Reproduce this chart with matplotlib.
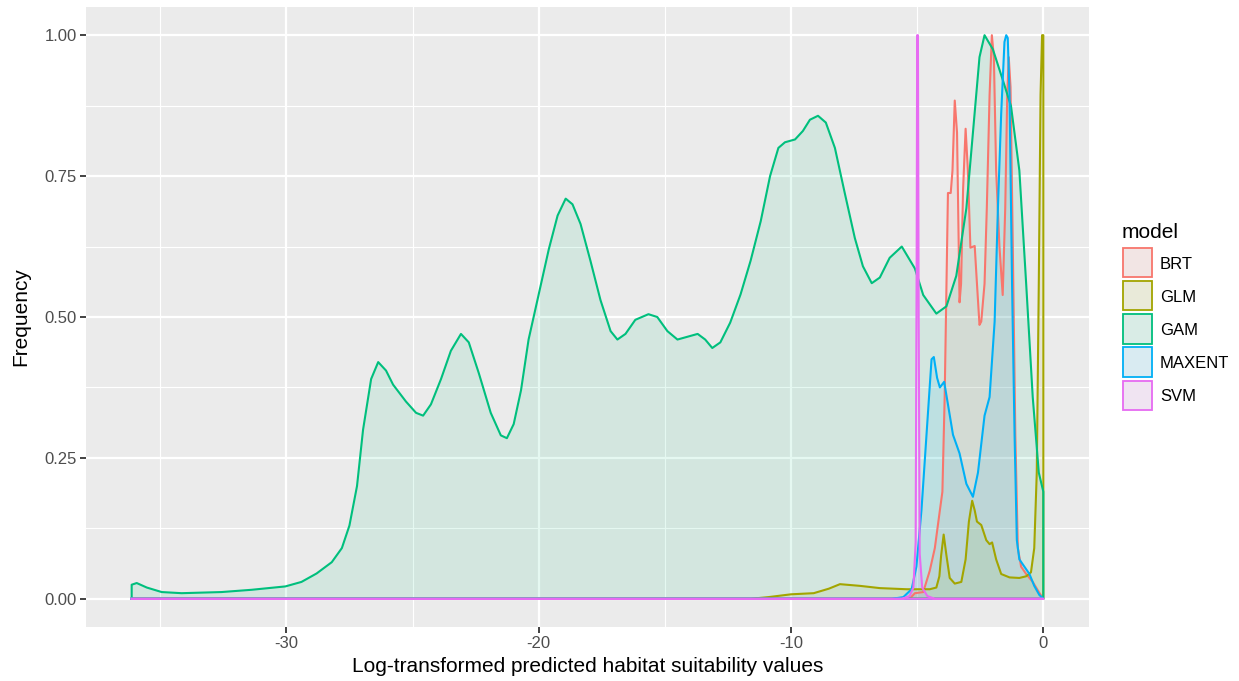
import matplotlib
matplotlib.use("Agg")
import matplotlib.pyplot as plt
from matplotlib.patches import Rectangle

plt.rcParams['font.family'] = ['Liberation Sans', 'DejaVu Sans']

models = ["BRT", "GLM", "GAM", "MAXENT", "SVM"]
colors = ["#F8766D", "#A3A500", "#00BF7D", "#00B0F6", "#E76BF3"]

x_min, x_max = -36.13, 0.0

brt_x = [-5.3, -5.09, -4.76, -4.5, -4.3, -4.1, -4.0, -3.91, -3.78, -3.67, -3.6, -3.51, -3.42, -3.32,
         -3.26, -3.18, -3.08, -2.99, -2.89, -2.72, -2.63, -2.53, -2.46, -2.33, -2.24, -2.13, -2.04,
         -1.96, -1.87, -1.74, -1.61, -1.51, -1.43, -1.37, -1.30, -1.21, -1.11, -1.01, -0.88, -0.68,
         -0.42, -0.15]
brt_y = [0.0, 0.01, 0.012, 0.05, 0.09, 0.157, 0.19, 0.358, 0.72, 0.72, 0.76, 0.884, 0.827, 0.526,
         0.559, 0.727, 0.834, 0.76, 0.623, 0.626, 0.559, 0.486, 0.492, 0.559, 0.693, 0.894, 1.0,
         0.961, 0.76, 0.626, 0.539, 0.693, 0.894, 0.961, 0.908, 0.626, 0.291, 0.09, 0.057, 0.044,
         0.03, 0.01]

glm_x = [-11.6, -10.9, -10.0, -9.1, -8.5, -8.06, -7.27, -6.48, -5.42, -4.5, -4.24, -4.12, -4.05,
         -3.95, -3.84, -3.71, -3.51, -3.25, -3.08, -2.95, -2.82, -2.72, -2.63, -2.46, -2.26, -2.13,
         -2.03, -1.87, -1.67, -1.34, -0.95, -0.68, -0.49, -0.36, -0.26, -0.18, -0.11, -0.05, 0.0]
glm_y = [0.0, 0.003, 0.008, 0.010, 0.018, 0.026, 0.023, 0.019, 0.017, 0.017, 0.02, 0.04, 0.077,
         0.114, 0.077, 0.037, 0.027, 0.03, 0.07, 0.137, 0.174, 0.157, 0.137, 0.131, 0.104, 0.097,
         0.1, 0.07, 0.044, 0.038, 0.037, 0.04, 0.047, 0.09, 0.224, 0.559, 0.894, 1.0, 1.0]

gam_x = [-36.13, -35.93, -35.53, -34.94, -34.15, -32.57, -31.38, -30.04, -29.4, -28.8, -28.2, -27.8,
         -27.5, -27.2, -26.96, -26.64, -26.36, -26.05, -25.77, -25.26, -24.86, -24.58, -24.27,
         -23.87, -23.48, -23.08, -22.77, -22.37, -21.9, -21.5, -21.26, -20.99, -20.7, -20.4, -20.0,
         -19.6, -19.25, -18.93, -18.66, -18.34, -17.95, -17.55, -17.15, -16.88, -16.56, -16.17,
         -15.65, -15.3, -14.9, -14.5, -14.1, -13.7, -13.4, -13.12, -12.8, -12.41, -12.0, -11.6,
         -11.2, -10.83, -10.5, -10.24, -9.84, -9.53, -9.25, -8.93, -8.62, -8.26, -7.87, -7.47,
         -7.15, -6.8, -6.48, -6.09, -5.61, -5.09, -4.76, -4.24, -3.84, -3.45, -3.05, -2.79, -2.53,
         -2.33, -2.0, -1.61, -1.28, -0.95, -0.68, -0.42, -0.18, 0.0]
gam_y = [0.025, 0.028, 0.02, 0.012, 0.01, 0.012, 0.016, 0.022, 0.03, 0.045, 0.065, 0.09,
         0.13, 0.2, 0.3, 0.39, 0.42, 0.405, 0.38, 0.35, 0.33, 0.325, 0.345,
         0.39, 0.44, 0.47, 0.455, 0.4, 0.33, 0.29, 0.285, 0.31, 0.37, 0.46, 0.54,
         0.62, 0.68, 0.71, 0.70, 0.665, 0.6, 0.53, 0.475, 0.46, 0.47, 0.495,
         0.505, 0.5, 0.475, 0.46, 0.465, 0.47, 0.46, 0.445, 0.455, 0.49, 0.54, 0.6,
         0.67, 0.75, 0.8, 0.81, 0.815, 0.83, 0.85, 0.857, 0.845, 0.8, 0.72, 0.64,
         0.59, 0.56, 0.57, 0.605, 0.625, 0.586, 0.539, 0.506, 0.519, 0.573, 0.693, 0.827, 0.961,
         1.0, 0.975, 0.921, 0.874, 0.760, 0.559, 0.358, 0.224, 0.19]

maxent_x = [-6.0, -5.55, -5.22, -5.03, -4.83, -4.63, -4.43, -4.34, -4.21, -4.1, -3.93, -3.78, -3.58,
            -3.32, -3.05, -2.79, -2.59, -2.33, -2.13, -1.93, -1.8, -1.67, -1.54, -1.47, -1.41,
            -1.34, -1.24, -1.14, -1.05, -0.95, -0.75, -0.55, -0.36, -0.16, 0.0]
maxent_y = [0.0, 0.003, 0.017, 0.057, 0.157, 0.291, 0.425, 0.429, 0.392, 0.375, 0.385, 0.345, 0.291,
            0.258, 0.204, 0.181, 0.224, 0.325, 0.358, 0.492, 0.693, 0.861, 0.988, 1.0, 0.995,
            0.894, 0.559, 0.291, 0.104, 0.070, 0.057, 0.044, 0.023, 0.007, 0.0]

svm_x = [-5.6, -5.3, -5.15, -5.06, -5.02, -5.0, -4.97, -4.94, -4.9, -4.8, -4.6, -4.3]
svm_y = [0.0, 0.005, 0.02, 0.1, 0.6, 1.0, 1.0, 0.5, 0.08, 0.02, 0.005, 0.0]

series = [(brt_x, brt_y), (glm_x, glm_y), (gam_x, gam_y), (maxent_x, maxent_y), (svm_x, svm_y)]

W, H = 1239, 681
fig = plt.figure(figsize=(W / 100, H / 100), dpi=100)
ax = fig.add_axes([86 / W, 1 - 627 / H, 1003 / W, 620 / H])
ax.set_facecolor("#EBEBEB")
for s in ax.spines.values():
    s.set_visible(False)

ax.set_xlim(-37.94, 1.81)
ax.set_ylim(-0.05, 1.05)
ax.set_xticks([-30, -20, -10, 0])
ax.set_xticklabels(["-30", "-20", "-10", "0"])
ax.set_xticks([-35, -25, -15, -5], minor=True)
ax.set_yticks([0, 0.25, 0.5, 0.75, 1.0])
ax.set_yticklabels(["0.00", "0.25", "0.50", "0.75", "1.00"])
ax.set_yticks([0.125, 0.375, 0.625, 0.875], minor=True)
ax.grid(which="major", color="white", lw=1.6)
ax.grid(which="minor", color="white", lw=0.8)
ax.set_axisbelow(True)
ax.tick_params(which="major", length=4, width=1.3, color="#333333", labelcolor="#4D4D4D",
               labelsize=12, pad=2.5)
ax.tick_params(which="minor", length=0)

for (xs, ys), c in zip(series, colors):
    px = [x_min] + list(xs)
    py = [0.0] + list(ys)
    if xs[-1] != x_max:
        px = px + [x_max]
        py = py + [0.0]
    px = px + [x_max, x_min]
    py = py + [0.0, 0.0]
    ax.fill(px, py, facecolor=c, alpha=0.1, edgecolor="none", zorder=2)
    ax.plot(px, py, color=c, lw=1.5, zorder=3, solid_joinstyle="round")

ax.set_xlabel("Log-transformed predicted habitat suitability values", fontsize=15, color="black",
              labelpad=4)
ax.set_ylabel("Frequency", fontsize=15, color="black", labelpad=10)

# legend (ggplot style), placed in figure pixel coordinates
def fx(p):
    return p / W

def fy(p):
    return 1 - p / H

fig.text(fx(1122), fy(238), "model", fontsize=15, color="black", va="baseline", ha="left")
key_left, key_size, key_top0, key_pitch = 1122, 31, 247, 33.2
for i, (m, c) in enumerate(zip(models, colors)):
    top = key_top0 + i * key_pitch
    fig.add_artist(Rectangle((fx(key_left), fy(top + key_size)), key_size / W, key_size / H,
                             transform=fig.transFigure, facecolor="#F2F2F2", edgecolor="none"))
    fig.add_artist(Rectangle((fx(key_left + 0.8), fy(top + key_size - 0.8)), (key_size - 1.6) / W,
                             (key_size - 1.6) / H, transform=fig.transFigure,
                             facecolor=(*matplotlib.colors.to_rgb(c), 0.1), edgecolor=c, lw=1.3))
    fig.text(fx(1160), fy(top + key_size / 2 + 6), m, fontsize=12, color="black",
             va="baseline", ha="left")

fig.savefig("out.png", dpi=100)
